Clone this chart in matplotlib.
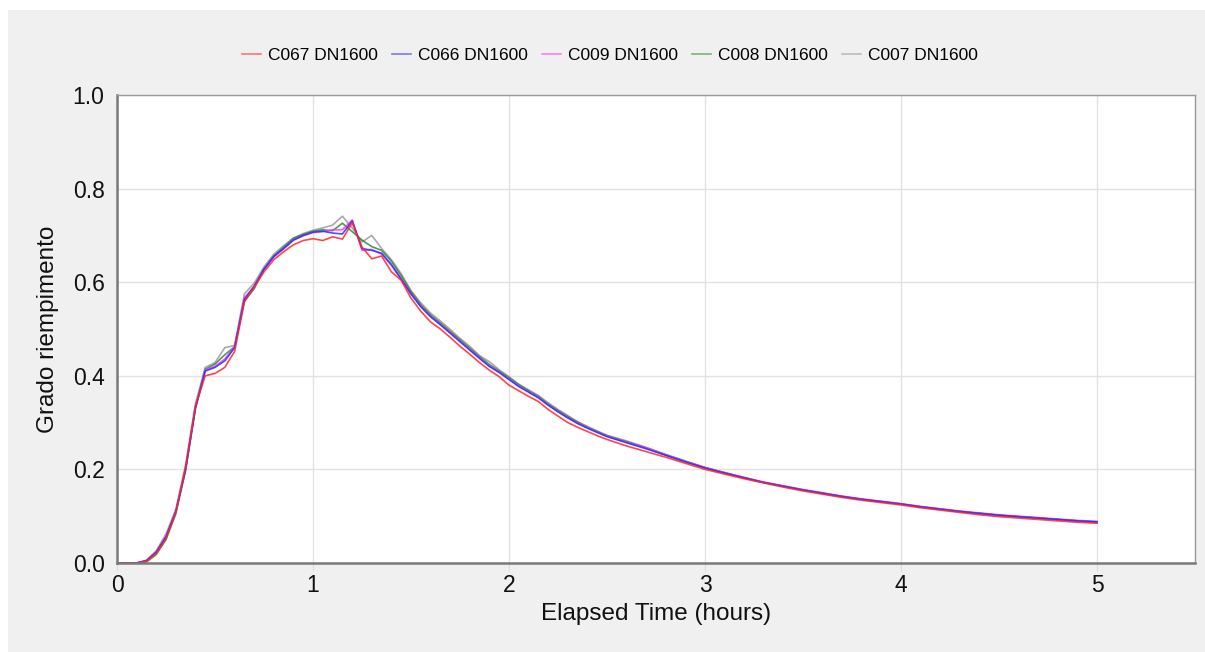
import matplotlib
matplotlib.use("Agg")
import matplotlib.pyplot as plt
from matplotlib.patches import Rectangle

plt.rcParams['font.family'] = ['Liberation Sans', 'DejaVu Sans']

# Time grid (hours)
time_h = [0.00, 0.05, 0.10, 0.15, 0.20, 0.25, 0.30, 0.35, 0.40, 0.45,
          0.50, 0.55, 0.60, 0.65, 0.70, 0.75, 0.80, 0.85, 0.90, 0.95,
          1.00, 1.05, 1.10, 1.15, 1.20, 1.25, 1.30, 1.35, 1.40, 1.45,
          1.50, 1.55, 1.60, 1.65, 1.70, 1.75, 1.80, 1.85, 1.90, 1.95,
          2.00, 2.05, 2.10, 2.15, 2.20, 2.25, 2.30, 2.35, 2.40, 2.45,
          2.50, 2.60, 2.70, 2.80, 2.90, 3.00, 3.10, 3.20, 3.30, 3.40,
          3.50, 3.60, 3.70, 3.80, 3.90, 4.00, 4.10, 4.20, 4.30, 4.40,
          4.50, 4.60, 4.70, 4.80, 4.90, 5.00]

c067 = [0.000, 0.000, 0.000, 0.004, 0.020, 0.052, 0.108, 0.205, 0.335, 0.400,
        0.405, 0.418, 0.452, 0.558, 0.590, 0.622, 0.648, 0.665, 0.680, 0.689,
        0.693, 0.689, 0.697, 0.692, 0.727, 0.675, 0.650, 0.656, 0.622, 0.604,
        0.566, 0.538, 0.515, 0.500, 0.482, 0.463, 0.446, 0.428, 0.412, 0.398,
        0.380, 0.368, 0.356, 0.345, 0.328, 0.314, 0.300, 0.290, 0.281, 0.272,
        0.264, 0.250, 0.238, 0.226, 0.213, 0.200, 0.190, 0.180, 0.171, 0.162,
        0.154, 0.147, 0.140, 0.134, 0.129, 0.124, 0.118, 0.113, 0.108, 0.103,
        0.099, 0.096, 0.093, 0.090, 0.087, 0.085]

c066 = [0.000, 0.000, 0.000, 0.005, 0.023, 0.056, 0.110, 0.200, 0.330, 0.410,
        0.418, 0.432, 0.460, 0.563, 0.592, 0.628, 0.655, 0.672, 0.690, 0.700,
        0.707, 0.709, 0.705, 0.703, 0.731, 0.672, 0.668, 0.662, 0.638, 0.607,
        0.575, 0.548, 0.526, 0.509, 0.491, 0.473, 0.455, 0.437, 0.420, 0.407,
        0.392, 0.377, 0.365, 0.353, 0.337, 0.323, 0.310, 0.298, 0.288, 0.279,
        0.270, 0.257, 0.244, 0.230, 0.216, 0.203, 0.192, 0.182, 0.172, 0.164,
        0.156, 0.149, 0.142, 0.136, 0.131, 0.126, 0.120, 0.115, 0.110, 0.106,
        0.102, 0.099, 0.096, 0.093, 0.090, 0.088]

c009 = [0.000, 0.000, 0.000, 0.005, 0.023, 0.057, 0.110, 0.200, 0.330, 0.412,
        0.420, 0.436, 0.462, 0.567, 0.590, 0.627, 0.654, 0.671, 0.690, 0.699,
        0.706, 0.708, 0.712, 0.712, 0.733, 0.668, 0.670, 0.660, 0.636, 0.606,
        0.575, 0.548, 0.527, 0.510, 0.492, 0.474, 0.456, 0.438, 0.421, 0.408,
        0.393, 0.378, 0.366, 0.354, 0.338, 0.324, 0.311, 0.299, 0.289, 0.280,
        0.271, 0.258, 0.246, 0.231, 0.217, 0.204, 0.193, 0.183, 0.173, 0.165,
        0.157, 0.150, 0.143, 0.137, 0.132, 0.127, 0.121, 0.116, 0.111, 0.107,
        0.103, 0.100, 0.097, 0.094, 0.091, 0.089]

c008 = [0.000, 0.000, 0.000, 0.002, 0.018, 0.050, 0.105, 0.198, 0.332, 0.414,
        0.425, 0.445, 0.462, 0.560, 0.586, 0.628, 0.656, 0.675, 0.694, 0.702,
        0.709, 0.712, 0.710, 0.726, 0.708, 0.690, 0.676, 0.668, 0.645, 0.614,
        0.580, 0.552, 0.530, 0.513, 0.495, 0.477, 0.459, 0.441, 0.424, 0.410,
        0.396, 0.381, 0.368, 0.356, 0.340, 0.326, 0.313, 0.301, 0.290, 0.281,
        0.272, 0.259, 0.246, 0.231, 0.217, 0.204, 0.193, 0.182, 0.172, 0.164,
        0.156, 0.149, 0.142, 0.136, 0.131, 0.126, 0.120, 0.115, 0.110, 0.106,
        0.102, 0.099, 0.096, 0.093, 0.090, 0.087]

c007 = [0.000, 0.000, 0.000, 0.006, 0.026, 0.062, 0.115, 0.210, 0.340, 0.418,
        0.428, 0.460, 0.465, 0.575, 0.598, 0.633, 0.660, 0.678, 0.694, 0.704,
        0.711, 0.716, 0.722, 0.741, 0.716, 0.686, 0.700, 0.672, 0.648, 0.618,
        0.582, 0.556, 0.534, 0.517, 0.499, 0.480, 0.463, 0.443, 0.430, 0.413,
        0.398, 0.382, 0.370, 0.358, 0.342, 0.328, 0.315, 0.302, 0.292, 0.282,
        0.273, 0.261, 0.247, 0.232, 0.218, 0.204, 0.193, 0.182, 0.172, 0.164,
        0.156, 0.149, 0.142, 0.136, 0.131, 0.126, 0.120, 0.115, 0.110, 0.106,
        0.102, 0.099, 0.096, 0.093, 0.090, 0.087]

series_labels = ["C067 DN1600", "C066 DN1600", "C009 DN1600", "C008 DN1600", "C007 DN1600"]
series_values = [c067, c066, c009, c008, c007]
series_colors = ["#ff2626", "#2b2bff", "#ff33ff", "#2e8b2e", "#9a9a9a"]

x_ticks = [0, 1, 2, 3, 4, 5]
y_ticks = [0.0, 0.2, 0.4, 0.6, 0.8, 1.0]

W, H = 1205, 652
fig = plt.figure(figsize=(W / 100, H / 100), dpi=100, facecolor="white")
bg = Rectangle((8 / W, 0), (W - 8) / W, (H - 10) / H,
               transform=fig.transFigure, facecolor="#f0f0f0",
               edgecolor="none", zorder=-10)
fig.patches.append(bg)

ax = fig.add_axes([117 / W, 1 - 563 / H, (1195 - 117) / W, (563 - 95) / H])
ax.set_facecolor("white")
ax.set_zorder(1)

order = [4, 3, 2, 1, 0]
lines = {}
for i in order:
    ln, = ax.plot(time_h, series_values[i], color=series_colors[i], lw=1.2,
                  alpha=0.85, label=series_labels[i])
    lines[i] = ln

ax.set_xlim(0, 5.5)
ax.set_ylim(0, 1.0)
ax.set_xticks(x_ticks)
ax.set_xticklabels([str(v) for v in x_ticks])
ax.set_yticks(y_ticks)
ax.set_yticklabels([f"{v:.1f}" for v in y_ticks])
ax.grid(True, color="#e2e2e2", lw=1.0)
ax.set_axisbelow(True)

ax.tick_params(axis="x", length=6, color="#dddddd", labelsize=16.5, pad=2, labelcolor="#111111")
ax.tick_params(axis="y", length=0, labelsize=16.5, pad=9, labelcolor="#111111")

for side in ["top", "right"]:
    ax.spines[side].set_color("#999999")
    ax.spines[side].set_linewidth(1.0)
for side in ["left", "bottom"]:
    ax.spines[side].set_color("#7a7a7a")
    ax.spines[side].set_linewidth(1.8)

ax.set_xlabel("Elapsed Time (hours)", fontsize=17.5, color="#111111", labelpad=4)
ax.set_ylabel("Grado riempimento", fontsize=17.5, color="#111111", labelpad=10)

handles = [lines[i] for i in range(5)]
leg = fig.legend(handles, series_labels, loc="center", bbox_to_anchor=(610 / W, 1 - 55 / H),
                 ncol=5, frameon=False, fontsize=12.5, handlelength=1.1,
                 handletextpad=0.4, columnspacing=0.8)
for h in leg.legend_handles:
    h.set_alpha(0.6)

fig.savefig("out.png", dpi=100, facecolor=fig.get_facecolor())
